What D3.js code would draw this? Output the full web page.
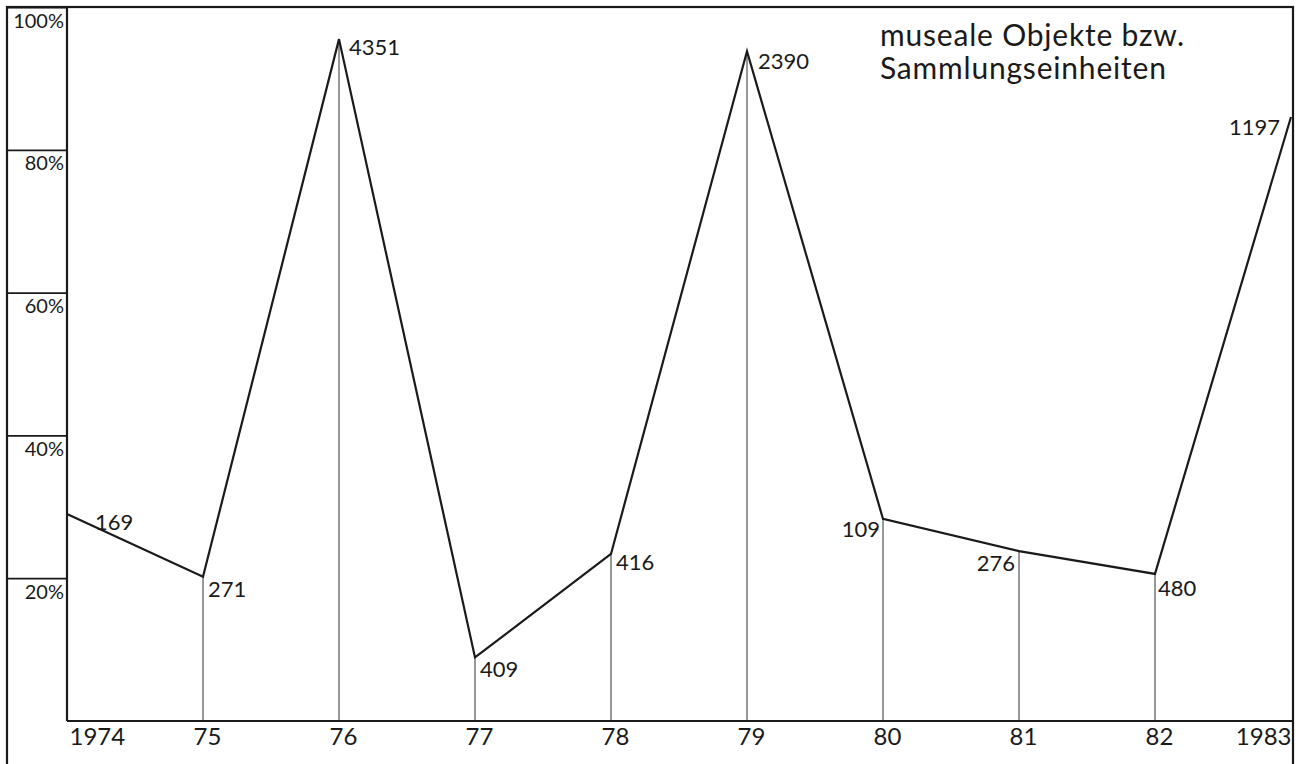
<!DOCTYPE html>
<html>
<head>
<meta charset="utf-8">
<script src="https://cdn.jsdelivr.net/npm/d3@7"></script>
<style>
  body { margin: 0; background: #fff; }
  svg { display: block; }
  text { font-family: Lato, "Open Sans", sans-serif; fill: #1a1a1a; }
</style>
</head>
<body>
<svg id="chart" width="1304" height="764"></svg>
<script>
// data
let years = ["1974", "75", "76", "77", "78", "79", "80", "81", "82", "1983"];
let shares = [29, 20.2, 95.5, 8.9, 23.4, 93.8, 28.3, 23.8, 20.6, 84.6];
let counts = ["169", "271", "4351", "409", "416", "2390", "109", "276", "480", "1197"];
let yTicks = [20, 40, 60, 80, 100];
let titleLines = ["museale Objekte bzw.", "Sammlungseinheiten"];

// label placement relative to each point
let labelPos = [
  {dx: 28, dy: 16, anchor: "start"},
  {dx: 5, dy: 20, anchor: "start"},
  {dx: 10, dy: 16, anchor: "start"},
  {dx: 5, dy: 20, anchor: "start"},
  {dx: 5, dy: 16, anchor: "start"},
  {dx: 11, dy: 18, anchor: "start"},
  {dx: -3, dy: 18, anchor: "end"},
  {dx: -4, dy: 20, anchor: "end"},
  {dx: 3, dy: 22, anchor: "start"},
  {dx: -11, dy: 18, anchor: "end"}
];

let svg = d3.select("#chart");
let frame = {left: 7, top: 7, right: 1293, bottom: 800};
let plot = {left: 67, right: 1291, top: 7, bottom: 721};

let x = d3.scalePoint().domain(years).range([plot.left, plot.right]);
let y = d3.scaleLinear().domain([0, 100]).range([plot.bottom, plot.top]);

// outer frame
svg.append("rect")
  .attr("x", frame.left).attr("y", frame.top)
  .attr("width", frame.right - frame.left)
  .attr("height", frame.bottom - frame.top)
  .attr("fill", "none").attr("stroke", "#1a1a1a").attr("stroke-width", 2.2);

// y scale column
let yAxis = svg.append("g")
  .attr("transform", `translate(${plot.left},0)`)
  .call(d3.axisLeft(y).tickValues(yTicks).tickSize(plot.left - frame.left).tickFormat(d => d + "%"));
yAxis.select(".domain").remove();
yAxis.selectAll(".tick line").attr("stroke", "#1a1a1a").attr("stroke-width", 1.8);
yAxis.selectAll(".tick text")
  .attr("x", -3).attr("dy", "1.0em")
  .attr("text-anchor", "end")
  .style("font-size", "20px");

svg.append("line")
  .attr("x1", plot.left).attr("x2", plot.left)
  .attr("y1", frame.top).attr("y2", plot.bottom)
  .attr("stroke", "#1a1a1a").attr("stroke-width", 2.2);

// drop lines
svg.append("g").selectAll("line")
  .data(years.slice(1, -1))
  .join("line")
  .attr("x1", d => x(d)).attr("x2", d => x(d))
  .attr("y1", d => y(shares[years.indexOf(d)]))
  .attr("y2", plot.bottom)
  .attr("stroke", "#333").attr("stroke-width", 1);

// baseline + year labels
let xAxis = svg.append("g")
  .attr("transform", `translate(0,${plot.bottom})`)
  .call(d3.axisBottom(x).tickSize(0).tickPadding(0));
xAxis.select(".domain").remove();
xAxis.selectAll(".tick text")
  .attr("y", 24)
  .attr("dy", 0)
  .style("font-size", "24px")
  .attr("text-anchor", (d, i) => i === 0 ? "start" : i === years.length - 1 ? "end" : "middle")
  .attr("dx", (d, i) => i === 0 ? 2 : i === years.length - 1 ? 0 : 4);

svg.append("line")
  .attr("x1", plot.left).attr("x2", frame.right)
  .attr("y1", plot.bottom).attr("y2", plot.bottom)
  .attr("stroke", "#1a1a1a").attr("stroke-width", 2.2);

// the line
let line = d3.line().x((d, i) => x(years[i])).y(d => y(d));
svg.append("path")
  .datum(shares)
  .attr("d", line)
  .attr("fill", "none")
  .attr("stroke", "#1a1a1a")
  .attr("stroke-width", 2.2)
  .attr("stroke-linejoin", "miter");

// value labels
svg.append("g").selectAll("text")
  .data(counts)
  .join("text")
  .attr("x", (d, i) => x(years[i]) + labelPos[i].dx)
  .attr("y", (d, i) => y(shares[i]) + labelPos[i].dy)
  .attr("text-anchor", (d, i) => labelPos[i].anchor)
  .style("font-size", "22px")
  .text(d => d);

// title
svg.append("text")
  .attr("x", 880).attr("y", 46)
  .style("font-size", "30px")
  .style("letter-spacing", "0.8px")
  .selectAll("tspan")
  .data(titleLines)
  .join("tspan")
  .attr("x", 880)
  .attr("dy", (d, i) => i === 0 ? 0 : 33)
  .text(d => d);
</script>
</body>
</html>
